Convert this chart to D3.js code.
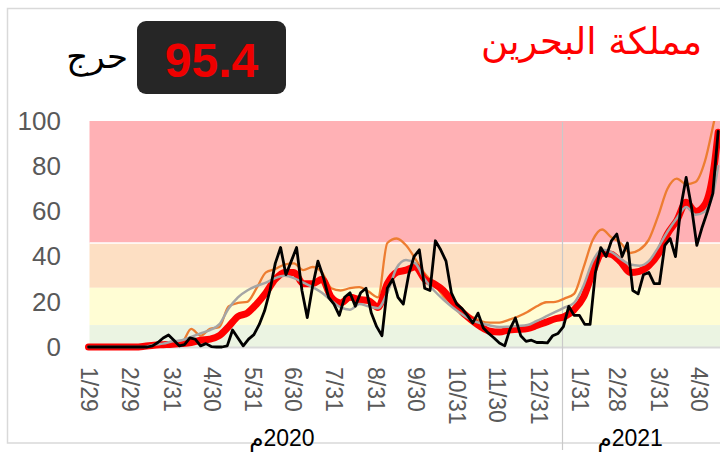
<!DOCTYPE html>
<html>
<head>
<meta charset="utf-8">
<script src="https://cdn.jsdelivr.net/npm/d3@7"></script>
<style>
  body { margin: 0; background: #fff; }
  svg { display: block; font-family: "Liberation Sans", Arial, "DejaVu Sans", sans-serif; }
</style>
</head>
<body>
<svg width="720" height="457"></svg>
<script>
// weekly series (every 7 days from 2020-01-29, last point 2021-05-15)
const redVals = [0, 0, 0, 0, 0, 0, 0.3, 0.8, 1, 1.2, 1.5, 2, 3, 3.5, 5, 9, 13.5, 15, 19, 24,
  30, 33, 33, 28, 28, 30, 22, 19.5, 22, 21, 20.5, 17.5, 28, 33, 34, 35.5, 30, 28, 25, 20,
  15.5, 12, 9, 7, 6.6, 7.5, 7.8, 8.2, 9.5, 11, 12.5, 13.5, 16.5, 22, 33, 41.6, 41, 37.6, 33, 33.5,
  36, 41, 50, 56, 64, 60, 63, 80, 95];
const grayVals = [0, 0, 0, 0, 0, 0, 0, 1, 1.5, 2.5, 3, 4.5, 6, 7.5, 10, 17, 22, 25, 27, 28.5,
  30.5, 31.5, 30.5, 28.5, 26.5, 24, 20.5, 17.5, 16.5, 19, 18, 17.2, 24, 35, 38.5, 37, 30, 25, 21, 17.5,
  14.5, 12, 10.5, 9.5, 8.8, 9, 9.3, 9.7, 11.5, 13.5, 15.5, 17.5, 19.5, 27, 38, 43, 42, 39, 36.5, 36,
  38, 44, 51, 57, 62, 58.5, 60, 70, 80];
const orangeVals = [0, 0, 0, 0, 0, 0, 0, 0.5, 1, 1.2, 2, 8, 5, 8, 8.8, 18, 19.5, 20, 26, 33,
  34.5, 36.5, 37, 34, 35.4, 33, 26, 25, 26, 26.5, 24.5, 22, 46, 48, 45, 39, 32.5, 28, 22.5, 19,
  16, 13.5, 11.5, 10.8, 10.8, 12, 13.5, 15.5, 18, 19.8, 20, 21.5, 23.5, 35, 47.3, 52, 48.5, 46, 41.6, 43,
  47.5, 58, 70, 74.5, 72, 73, 82, 100, 108];
// daily-value series sampled every 4 days from 2020-01-29
const blackVals = [0, 0, 0, 0, 0, 0, 0, 0, 0, 0, 0, 0, 0.5, 2, 4, 5.3, 3, 0.5, 1, 4,
  3.5, 0.5, 1.5, 0.2, 0, 0, 0.5, 7.5, 4, 0.5, 3.5, 5.5, 10, 16, 25, 37, 44, 32, 38, 44,
  25, 13, 27, 38, 31, 22, 19, 14, 22, 24, 18, 24, 26, 15, 9, 5, 26, 30, 22, 19,
  32, 40, 43, 26, 25, 47, 43, 38, 24, 19, 17, 14, 10.6, 15, 8.4, 6, 4, 1.8, 0.5, 8,
  12.8, 5, 2.5, 3, 2, 2, 1.8, 5, 6, 9, 18, 14, 14, 10, 10, 33, 44, 40, 47, 50,
  40, 46, 25, 23.5, 32, 33, 28, 28, 45, 48, 40, 62, 75, 62, 45, 53, 60, 68, 95.4];

const tickDates = ["2020-01-29", "2020-02-29", "2020-03-31", "2020-04-30", "2020-05-31", "2020-06-30",
  "2020-07-31", "2020-08-31", "2020-09-30", "2020-10-31", "2020-11-30", "2020-12-31",
  "2021-01-31", "2021-02-28", "2021-03-31", "2021-04-30"];
const yTicks = [0, 20, 40, 60, 80, 100];
const bands = [
  { from: 46, to: 100, color: "#ffb1b5" },
  { from: 26.2, to: 46, color: "#fddfc3" },
  { from: 9.7, to: 26.2, color: "#fffdd4" },
  { from: 0, to: 9.7, color: "#ebf4e2" }
];
const years = [{ label: "2020م", date: "2020-06-22" }, { label: "2021م", date: "2021-03-10" }];
const title = "مملكة البحرين";
const levelText = "حرج";
const currentValue = "95.4";

const svg = d3.select("svg");
const parse = d3.timeParse("%Y-%m-%d");
const start = parse("2020-01-29");
const lastDay = 472;

const weekDates = redVals.map((d, i) => d3.timeDay.offset(start, Math.min(i * 7, lastDay)));
const blackDates = blackVals.map((d, i) => d3.timeDay.offset(start, Math.min(i * 4, lastDay)));

const x = d3.scaleTime()
  .domain([start, d3.timeDay.offset(start, 473)])
  .range([88.5, 719.5]);
const y = d3.scaleLinear().domain([0, 100]).range([347, 121]);

// outer frame
svg.append("rect")
  .attr("x", 7.5).attr("y", 8.5).attr("width", 730).attr("height", 434.5)
  .attr("fill", "none").attr("stroke", "#d9d9d9").attr("stroke-width", 1.5);

// background bands
svg.append("g").selectAll("rect")
  .data(bands)
  .join("rect")
    .attr("x", 89.5)
    .attr("y", d => y(d.to))
    .attr("width", 720 - 89.5)
    .attr("height", d => y(d.from) - y(d.to))
    .attr("fill", d => d.color);
svg.append("line")
  .attr("x1", 89.5).attr("x2", 720)
  .attr("y1", y(46)).attr("y2", y(46))
  .attr("stroke", "#fff").attr("stroke-width", 1.5);

// baseline
svg.append("line")
  .attr("x1", 88).attr("x2", 720)
  .attr("y1", y(0) + 0.5).attr("y2", y(0) + 0.5)
  .attr("stroke", "#d9d9d9").attr("stroke-width", 2);

// year separator
svg.append("line")
  .attr("x1", 562.5).attr("x2", 562.5)
  .attr("y1", 122).attr("y2", 450)
  .attr("stroke", "#c9c9c9").attr("stroke-width", 1.2);

svg.append("clipPath").attr("id", "plot")
  .append("rect").attr("x", 80).attr("y", y(100)).attr("width", 640).attr("height", y(0) - y(100) + 6);

const lineGen = (dates, curve) => d3.line()
  .x((d, i) => x(dates[i]))
  .y(d => y(d))
  .curve(curve);

const lines = svg.append("g").attr("clip-path", "url(#plot)")
  .attr("fill", "none").attr("stroke-linejoin", "round").attr("stroke-linecap", "round");

lines.append("path")
  .attr("d", lineGen(weekDates, d3.curveMonotoneX)(orangeVals))
  .attr("stroke", "#ed7d31").attr("stroke-width", 2.3);
lines.append("path")
  .attr("d", lineGen(weekDates, d3.curveMonotoneX)(redVals))
  .attr("stroke", "#ff0000").attr("stroke-width", 7);
lines.append("path")
  .attr("d", lineGen(weekDates, d3.curveMonotoneX)(grayVals))
  .attr("stroke", "#a5a5a5").attr("stroke-width", 2.5);
lines.append("path")
  .attr("d", lineGen(blackDates, d3.curveLinear)(blackVals))
  .attr("stroke", "#000").attr("stroke-width", 2.8);

// y axis
const yAxis = svg.append("g")
  .attr("transform", "translate(61,0)")
  .call(d3.axisLeft(y).tickValues(yTicks).tickSize(0).tickPadding(0))
  .call(g => g.select(".domain").remove());
yAxis.selectAll("text")
  .attr("fill", "#595959").style("font-size", "26px")
  .style("font-family", "'Liberation Sans', Arial, sans-serif");

// x axis
const xAxis = svg.append("g")
  .attr("transform", `translate(0,${y(0)})`)
  .call(d3.axisBottom(x).tickValues(tickDates.map(parse)).tickFormat(d3.timeFormat("%-m/%-d")).tickSize(0))
  .call(g => g.select(".domain").remove());
xAxis.selectAll("text")
  .attr("fill", "#595959").style("font-size", "23px")
  .style("font-family", "'Liberation Sans', Arial, sans-serif")
  .attr("text-anchor", "start")
  .attr("dominant-baseline", "central")
  .attr("x", 0).attr("y", 0).attr("dy", null)
  .attr("transform", "translate(0,20) rotate(90)");

// year labels
svg.append("g").selectAll("text")
  .data(years)
  .join("text")
    .attr("x", d => x(parse(d.date)))
    .attr("y", 446)
    .attr("text-anchor", "middle")
    .attr("direction", "rtl")
    .style("unicode-bidi", "embed")
    .style("font-size", "23px")
    .attr("fill", "#000")
    .text(d => d.label);

// title
svg.append("text")
  .attr("x", 702).attr("y", 54)
  .attr("text-anchor", "end")
  .style("font-family", "'DejaVu Sans', sans-serif")
  .style("font-size", "37px")
  .attr("fill", "#ff0000")
  .text(title);

// current value box
svg.append("rect")
  .attr("x", 137).attr("y", 21).attr("width", 149).attr("height", 73).attr("rx", 9)
  .attr("fill", "#262626");
svg.append("text")
  .attr("x", 211.5).attr("y", 77)
  .attr("text-anchor", "middle")
  .style("font-size", "48px").style("font-weight", "bold")
  .attr("fill", "#ee0000")
  .text(currentValue);
svg.append("text")
  .attr("x", 128).attr("y", 68)
  .attr("text-anchor", "end")
  .style("font-family", "'DejaVu Sans', sans-serif")
  .style("font-size", "34px")
  .attr("fill", "#000")
  .text(levelText);
</script>
</body>
</html>
